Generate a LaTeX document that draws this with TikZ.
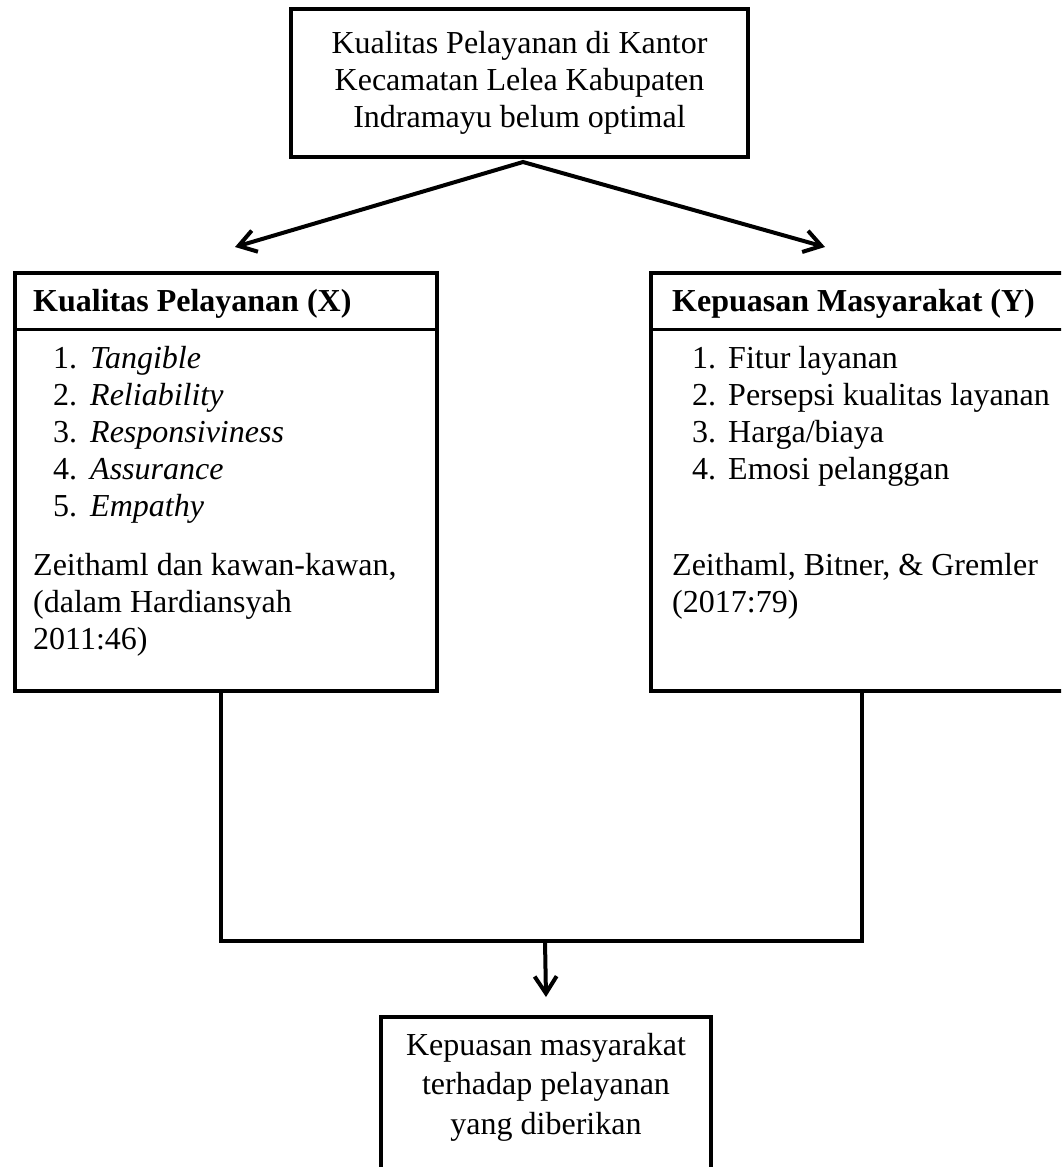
\documentclass[tikz,border=0pt]{standalone}
\usepackage{fontspec}
\setmainfont{Liberation Serif}
\usetikzlibrary{arrows.meta}

\tikzset{
  box/.style = {draw, rectangle, line width=3.5pt, inner sep=0pt},
  txt/.style = {inner sep=0pt, font=\fontsize{32}{37}\selectfont},
  conn/.style = {line width=3.5pt},
  >={Straight Barb[length=17pt,width=22pt]}
}

\begin{document}
\begin{tikzpicture}[x=1pt, y=-1pt]
  \useasboundingbox (0,0) rectangle (1061,1167);
  \clip (0,0) rectangle (1061,1167);

  \node[box, txt, line width=4pt, align=center, minimum width=457pt, minimum height=148pt] (masalah) at (519.5,83)
    {Kualitas Pelayanan di Kantor\\Kecamatan Lelea Kabupaten\\Indramayu belum optimal};

  \node[box, anchor=north west, minimum width=422pt, minimum height=418pt] (kx) at (13,271) {};
  \node[box, anchor=north west, minimum width=422pt, minimum height=418pt] (ky) at (649,271) {};
  \draw[line width=3pt] ([yshift=-58pt]kx.north west) -- ([yshift=-58pt]kx.north east);
  \draw[line width=3pt] ([yshift=-58pt]ky.north west) -- ([yshift=-58pt]ky.north east);

  \node[txt, anchor=base west] (kxjudul) at (33,311) {\textbf{Kualitas Pelayanan (X)}};
  \node[txt, anchor=base west] (kxdimensi) at (53,368)
    {\begin{tabular}[t]{@{}l@{\hspace{13pt}}l@{}}
      1. & \textit{Tangible}\\
      2. & \textit{Reliability}\\
      3. & \textit{Responsiviness}\\
      4. & \textit{Assurance}\\
      5. & \textit{Empathy}
    \end{tabular}};
  \node[txt, anchor=base west] (kxsumber) at (33,575)
    {\begin{tabular}[t]{@{}l@{}}
      Zeithaml dan kawan-kawan,\\
      (dalam Hardiansyah\\
      2011:46)
    \end{tabular}};

  \node[txt, anchor=base west] (kyjudul) at (672,311) {\textbf{Kepuasan Masyarakat (Y)}};
  \node[txt, anchor=base west] (kydimensi) at (692,368)
    {\begin{tabular}[t]{@{}l@{\hspace{12pt}}l@{}}
      1. & Fitur layanan\\
      2. & Persepsi kualitas layanan\\
      3. & Harga/biaya\\
      4. & Emosi pelanggan
    \end{tabular}};
  \node[txt, anchor=base west] (kysumber) at (672,575)
    {\begin{tabular}[t]{@{}l@{}}
      Zeithaml, Bitner, \& Gremler\\
      (2017:79)
    \end{tabular}};

  \node[box, anchor=north, minimum width=330pt, minimum height=180pt] (hasil) at (546,1015) {};
  \node[txt, anchor=base, font=\fontsize{32}{39.5}\selectfont] (hasilteks) at (546,1055)
    {\begin{tabular}[t]{@{}c@{}}
      Kepuasan masyarakat\\
      terhadap pelayanan\\
      yang diberikan
    \end{tabular}};

  \coordinate (puncak) at (523,162);
  \coordinate (ujungx) at (235,247);
  \coordinate (ujungy) at (825,247);
  \coordinate (gabung) at (545,941);

  \draw[<->, line width=4pt] (ujungx) -- (puncak) -- (ujungy);
  \draw[conn] ([xshift=-5pt]kx.south) |- (gabung) -| (ky.south);
  \draw[->, line width=4pt] (gabung) -- ([yshift=18pt]hasil.north);
\end{tikzpicture}
\end{document}
